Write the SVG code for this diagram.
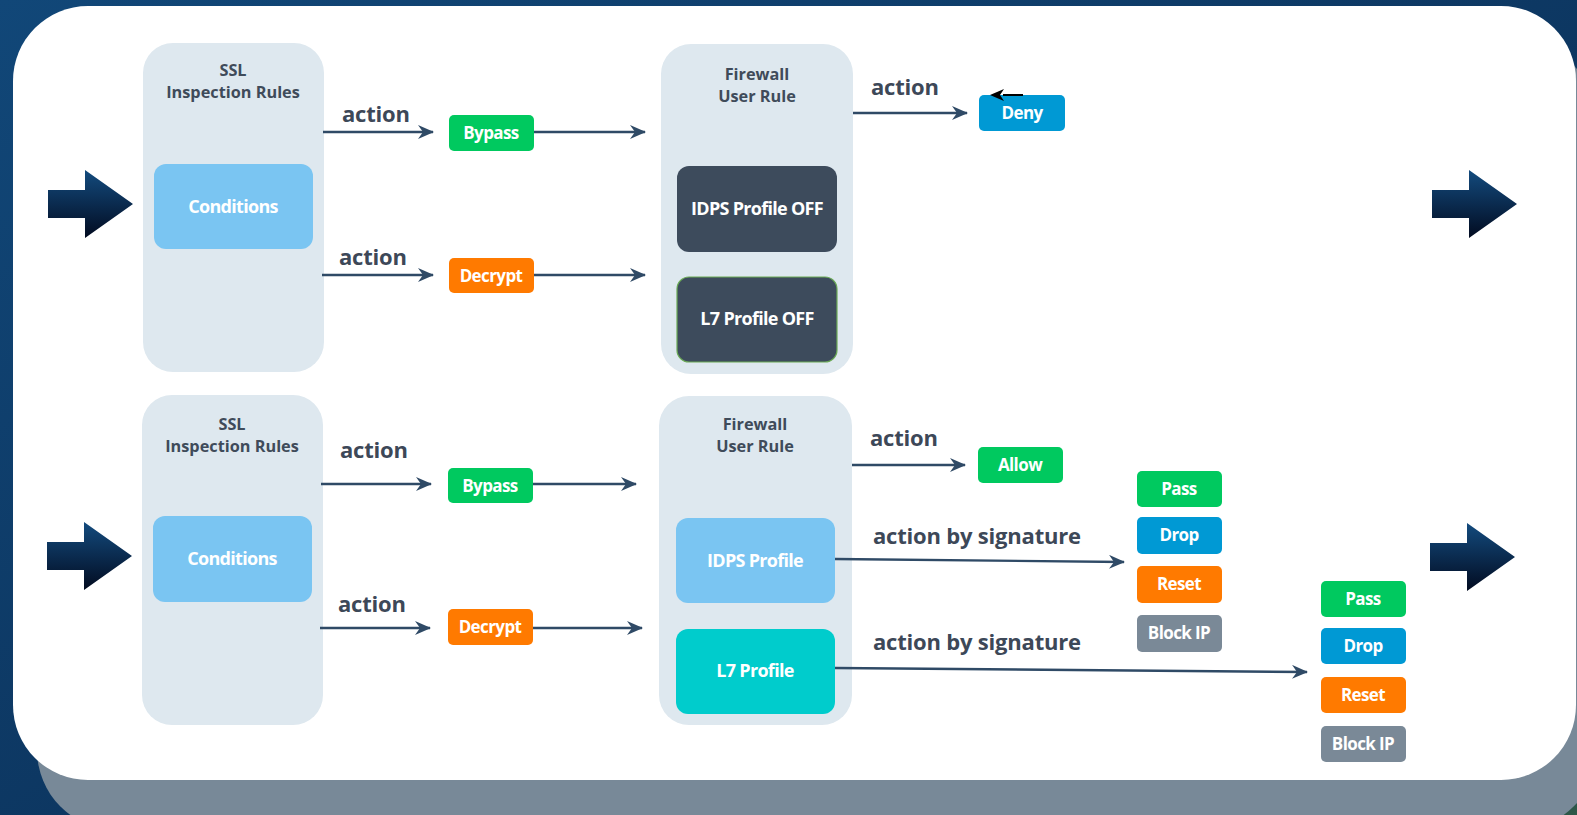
<svg xmlns="http://www.w3.org/2000/svg" width="1577" height="815" viewBox="0 0 1577 815">
  <defs>
    <linearGradient id="bgGrad" x1="0" y1="0" x2="1" y2="1">
      <stop offset="0" stop-color="#114778"/>
      <stop offset="0.75" stop-color="#0b3058"/>
      <stop offset="0.93" stop-color="#0c2f50"/>
      <stop offset="1" stop-color="#2f5a48"/>
    </linearGradient>
    <linearGradient id="bigArrowGrad" x1="0" y1="0" x2="0" y2="1">
      <stop offset="0" stop-color="#134b7e"/>
      <stop offset="1" stop-color="#020b20"/>
    </linearGradient>
    <marker id="arrowHead" viewBox="0 0 16 14" refX="15" refY="7" markerWidth="16" markerHeight="14" markerUnits="userSpaceOnUse" orient="auto">
      <path d="M0,0 L16,7 L0,14 L5,7 Z" fill="#2f4a66"/>
    </marker>
    <marker id="blackHead" viewBox="0 0 14 12" refX="1" refY="6" markerWidth="14" markerHeight="12" markerUnits="userSpaceOnUse" orient="auto-start-reverse">
      <path d="M0,0 L14,6 L0,12 L4,6 Z" fill="#000"/>
    </marker>
    <!-- big block arrow shape, origin at shaft left / vertical centre -->
    <path id="bigArrow" d="M0,-14 L37,-14 L37,-34 L85,0 L37,34 L37,14 L0,14 Z"/>
  </defs>
  <style>
    .panel { fill: #dee8ef; }
    .ptitle { font-family: "Open Sans", "Liberation Sans", sans-serif; font-weight: 700; font-size: 16.3px; fill: #3f4b5a; text-anchor: middle; }
    .inner { font-family: "Open Sans", "Liberation Sans", sans-serif; font-weight: 700; font-size: 18px; fill: #ffffff; text-anchor: middle; letter-spacing: -0.7px; }
    .btn { font-family: "Open Sans", "Liberation Sans", sans-serif; font-weight: 700; font-size: 17px; fill: #ffffff; text-anchor: middle; letter-spacing: -0.6px; }
    .lbl { font-family: "Open Sans", "Liberation Sans", sans-serif; font-weight: 700; font-size: 22px; fill: #3d4858; letter-spacing: -0.2px; }
    .conn { stroke: #2f4a66; stroke-width: 2.4; fill: none; marker-end: url(#arrowHead); }
    .green { fill: #00c95f; }
    .blue { fill: #0099d4; }
    .orange { fill: #ff7a00; }
    .gray { fill: #7a8997; }
    .lightblue { fill: #7ac5f2; }
    .dark { fill: #3d4b5c; }
    .teal { fill: #00cccc; }
  </style>

  <!-- backdrop, shadow card and white card -->
  <rect x="0" y="0" width="1577" height="815" fill="url(#bgGrad)"/>
  <rect x="37" y="42" width="1560" height="788" rx="80" fill="#788998"/>
  <rect x="13" y="6" width="1563" height="774" rx="75" fill="#ffffff"/>

  <!-- flow in / flow out arrows -->
  <g id="flow-arrows" fill="url(#bigArrowGrad)">
    <use href="#bigArrow" x="48" y="204"/>
    <use href="#bigArrow" x="47" y="556"/>
    <use href="#bigArrow" x="1432" y="204"/>
    <use href="#bigArrow" x="1430" y="557"/>
  </g>

  <!-- top row: SSL inspection rules -->
  <g id="ssl-top">
    <rect class="panel" x="143" y="43" width="181" height="329" rx="30"/>
    <text class="ptitle" x="233" y="76">SSL</text>
    <text class="ptitle" x="233" y="98">Inspection Rules</text>
    <rect class="lightblue" x="154" y="164" width="159" height="85" rx="12"/>
    <text class="inner" x="233" y="213">Conditions</text>
  </g>

  <g id="bypass-top">
    <rect class="green" x="449" y="115" width="85" height="36" rx="5"/>
    <text class="btn" x="491" y="139">Bypass</text>
  </g>
  <g id="decrypt-top">
    <rect class="orange" x="449" y="258" width="85" height="35" rx="5"/>
    <text class="btn" x="491" y="282">Decrypt</text>
  </g>

  <!-- top row: firewall user rule -->
  <g id="fw-top">
    <rect class="panel" x="661" y="44" width="192" height="330" rx="30"/>
    <text class="ptitle" x="757" y="80">Firewall</text>
    <text class="ptitle" x="757" y="102">User Rule</text>
    <rect class="dark" x="677" y="166" width="160" height="86" rx="12"/>
    <text class="inner" x="757" y="215">IDPS Profile OFF</text>
    <rect class="dark" x="677" y="277" width="160" height="85" rx="12" stroke="#6aaa55" stroke-width="1.2"/>
    <text class="inner" x="757" y="325">L7 Profile OFF</text>
  </g>

  <g id="deny">
    <rect class="blue" x="979" y="95" width="86" height="36" rx="5"/>
    <text class="btn" x="1022" y="119">Deny</text>
  </g>

  <!-- bottom row: SSL inspection rules -->
  <g id="ssl-bottom">
    <rect class="panel" x="142" y="395" width="181" height="330" rx="30"/>
    <text class="ptitle" x="232" y="430">SSL</text>
    <text class="ptitle" x="232" y="452">Inspection Rules</text>
    <rect class="lightblue" x="153" y="516" width="159" height="86" rx="12"/>
    <text class="inner" x="232" y="565">Conditions</text>
  </g>

  <g id="bypass-bottom">
    <rect class="green" x="448" y="468" width="85" height="35" rx="5"/>
    <text class="btn" x="490" y="492">Bypass</text>
  </g>
  <g id="decrypt-bottom">
    <rect class="orange" x="448" y="609" width="85" height="36" rx="5"/>
    <text class="btn" x="490" y="633">Decrypt</text>
  </g>

  <!-- bottom row: firewall user rule -->
  <g id="fw-bottom">
    <rect class="panel" x="659" y="396" width="193" height="329" rx="30"/>
    <text class="ptitle" x="755" y="430">Firewall</text>
    <text class="ptitle" x="755" y="452">User Rule</text>
    <rect class="lightblue" x="676" y="518" width="159" height="85" rx="12"/>
    <text class="inner" x="755" y="567">IDPS Profile</text>
    <rect class="teal" x="676" y="629" width="159" height="85" rx="12"/>
    <text class="inner" x="755" y="677">L7 Profile</text>
  </g>

  <g id="allow">
    <rect class="green" x="978" y="447" width="85" height="36" rx="5"/>
    <text class="btn" x="1020" y="471">Allow</text>
  </g>

  <!-- IDPS signature actions -->
  <g id="idps-actions">
    <rect class="green" x="1137" y="471" width="85" height="36" rx="5"/>
    <text class="btn" x="1179" y="495">Pass</text>
    <rect class="blue" x="1137" y="517" width="85" height="37" rx="5"/>
    <text class="btn" x="1179" y="541">Drop</text>
    <rect class="orange" x="1137" y="566" width="85" height="37" rx="5"/>
    <text class="btn" x="1179" y="590">Reset</text>
    <rect class="gray" x="1137" y="615" width="85" height="37" rx="5"/>
    <text class="btn" x="1179" y="639">Block IP</text>
  </g>

  <!-- L7 signature actions -->
  <g id="l7-actions">
    <rect class="green" x="1321" y="581" width="85" height="36" rx="5"/>
    <text class="btn" x="1363" y="605">Pass</text>
    <rect class="blue" x="1321" y="628" width="85" height="36" rx="5"/>
    <text class="btn" x="1363" y="652">Drop</text>
    <rect class="orange" x="1321" y="677" width="85" height="36" rx="5"/>
    <text class="btn" x="1363" y="701">Reset</text>
    <rect class="gray" x="1321" y="726" width="85" height="36" rx="5"/>
    <text class="btn" x="1363" y="750">Block IP</text>
  </g>

  <!-- connectors -->
  <g id="connectors">
    <path class="conn" d="M323,132 H433"/>
    <path class="conn" d="M534,132 H645"/>
    <path class="conn" d="M322,275 H433"/>
    <path class="conn" d="M534,275 H645"/>
    <path class="conn" d="M853,113 H967"/>
    <path d="M1023,95 H1003" stroke="#000" stroke-width="2" marker-end="url(#blackHead)"/>

    <path class="conn" d="M321,484 H431"/>
    <path class="conn" d="M533,484 H636"/>
    <path class="conn" d="M320,628 H430"/>
    <path class="conn" d="M533,628 H642"/>
    <path class="conn" d="M852,465 H965"/>
    <path class="conn" d="M835,559 L1124,562"/>
    <path class="conn" d="M835,668 L1307,672"/>

    <text class="lbl" x="342" y="122">action</text>
    <text class="lbl" x="339" y="265">action</text>
    <text class="lbl" x="340" y="458">action</text>
    <text class="lbl" x="338" y="612">action</text>
    <text class="lbl" x="871" y="95">action</text>
    <text class="lbl" x="870" y="446">action</text>
    <text class="lbl" x="873" y="544">action by signature</text>
    <text class="lbl" x="873" y="650">action by signature</text>
  </g>
</svg>
